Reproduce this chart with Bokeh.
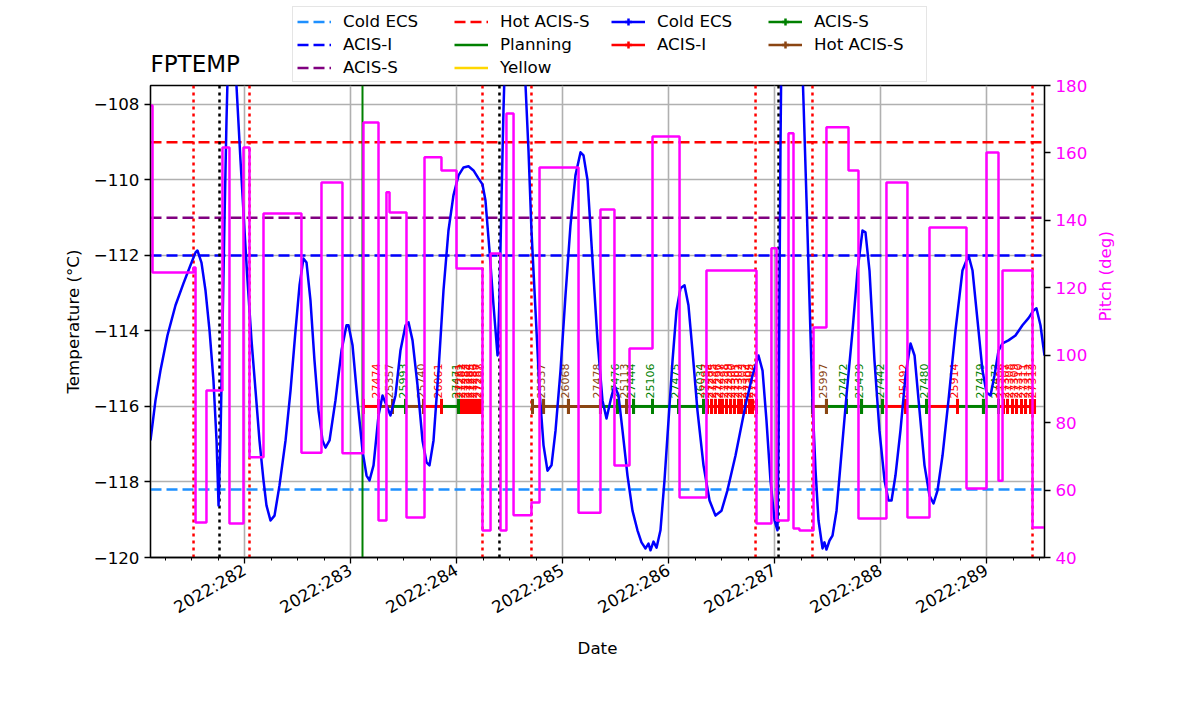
import math
from bokeh.plotting import figure
from bokeh.layouts import column
from bokeh.models import (Range1d, LinearAxis, FixedTicker, CustomJSTickFormatter,
                          Legend, LegendItem, Span, Label)
from bokeh.core.properties import value
from bokeh.embed import file_html
from bokeh.resources import INLINE

FONT = "DejaVu Sans"

# ---------------- data ----------------
x_start, x_stop = 281.113, 289.547
temp_min, temp_max = -120.0, -107.5
pitch_min, pitch_max = 40.0, 180.0

day_ticks = [282, 283, 284, 285, 286, 287, 288, 289]
temp_ticks = [-120, -118, -116, -114, -112, -110, -108]
pitch_ticks = [40, 60, 80, 100, 120, 140, 160, 180]

temp_time = [281.113, 281.160, 281.207, 281.273, 281.349, 281.424, 281.490, 281.538, 281.556,
             281.594, 281.632, 281.670, 281.707, 281.736, 281.755, 281.773, 281.792, 281.811,
             281.830, 281.849, 281.877, 281.924, 281.962, 282.000, 282.028, 282.066, 282.104,
             282.141, 282.179, 282.207, 282.245, 282.283, 282.330, 282.387, 282.434, 282.481,
             282.519, 282.556, 282.585, 282.622, 282.660, 282.698, 282.736, 282.764, 282.802,
             282.858, 282.915, 282.962, 282.981, 283.019, 283.066, 283.113, 283.151, 283.179,
             283.217, 283.264, 283.302, 283.339, 283.377, 283.424, 283.471, 283.519, 283.547,
             283.585, 283.632, 283.679, 283.717, 283.745, 283.783, 283.830, 283.877, 283.924,
             283.971, 284.019, 284.066, 284.113, 284.160, 284.207, 284.245, 284.273, 284.311,
             284.349, 284.387, 284.405, 284.424, 284.443, 284.462, 284.538, 284.613, 284.651,
             284.679, 284.707, 284.745, 284.783, 284.821, 284.858, 284.896, 284.934, 284.981,
             285.028, 285.075, 285.122, 285.170, 285.198, 285.236, 285.283, 285.330, 285.377,
             285.415, 285.453, 285.490, 285.528, 285.566, 285.613, 285.660, 285.707, 285.745,
             285.783, 285.811, 285.830, 285.858, 285.887, 285.924, 285.962, 286.000, 286.038,
             286.075, 286.113, 286.151, 286.188, 286.226, 286.273, 286.330, 286.387, 286.443,
             286.500, 286.556, 286.632, 286.726, 286.792, 286.849, 286.887, 286.924, 286.962,
             287.000, 287.028, 287.038, 287.047, 287.056, 287.066, 287.151, 287.255, 287.273,
             287.302, 287.330, 287.358, 287.387, 287.415, 287.453, 287.471, 287.490, 287.519,
             287.547, 287.585, 287.622, 287.679, 287.736, 287.783, 287.830, 287.858, 287.896,
             287.943, 287.990, 288.038, 288.075, 288.104, 288.141, 288.188, 288.236, 288.283,
             288.321, 288.368, 288.415, 288.462, 288.500, 288.538, 288.585, 288.641, 288.707,
             288.773, 288.830, 288.868, 288.915, 288.962, 289.000, 289.038, 289.075, 289.113,
             289.151, 289.207, 289.273, 289.339, 289.396, 289.443, 289.471, 289.509, 289.547]
temp_value = [-116.90, -115.84, -115.05, -114.12, -113.32, -112.74, -112.26, -111.92, -111.87,
              -112.19, -112.93, -113.99, -115.31, -116.90, -118.62, -116.90, -113.99, -111.07,
              -108.42, -106.30, -104.50, -107.50, -109.48, -111.34, -112.66, -114.25, -115.58,
              -116.90, -117.96, -118.62, -119.02, -118.89, -118.09, -116.90, -115.58, -113.99,
              -112.79, -112.08, -112.19, -113.19, -114.78, -116.11, -116.90, -117.09, -116.90,
              -115.84, -114.52, -113.85, -113.85, -114.38, -115.84, -117.17, -117.83, -117.96,
              -117.56, -116.24, -115.71, -115.97, -116.24, -115.71, -114.52, -113.85, -113.77,
              -114.25, -115.44, -116.90, -117.48, -117.56, -116.90, -115.05, -112.93, -111.34,
              -110.41, -109.88, -109.67, -109.64, -109.75, -109.96, -110.12, -110.54, -111.87,
              -113.32, -114.65, -113.19, -110.54, -108.16, -106.30, -104.00, -106.30, -107.50,
              -109.22, -111.34, -113.46, -115.58, -117.03, -117.70, -117.56, -116.64, -115.05,
              -113.06, -111.21, -109.88, -109.27, -109.35, -110.01, -112.13, -114.25, -115.84,
              -116.32, -115.84, -115.44, -115.71, -116.64, -117.83, -118.76, -119.28, -119.60,
              -119.76, -119.63, -119.81, -119.58, -119.74, -119.28, -117.96, -116.37, -114.78,
              -113.46, -112.87, -112.79, -113.32, -114.52, -116.11, -117.56, -118.49, -118.89,
              -118.76, -118.22, -117.30, -115.97, -115.18, -114.65, -115.05, -116.37, -117.96,
              -119.02, -119.28, -116.90, -112.93, -109.22, -106.30, -103.00, -106.30, -107.89,
              -110.54, -113.19, -115.84, -117.70, -119.02, -119.76, -119.60, -119.79, -119.55,
              -119.42, -118.76, -117.56, -115.71, -113.99, -112.40, -111.34, -111.39, -112.40,
              -114.78, -116.64, -117.96, -118.49, -118.49, -117.83, -116.64, -115.18, -114.33,
              -114.65, -116.11, -117.56, -118.36, -118.57, -118.22, -117.30, -115.84, -113.99,
              -112.40, -112.00, -112.40, -113.72, -115.05, -115.63, -115.71, -115.18, -114.52,
              -114.33, -114.25, -114.12, -113.85, -113.66, -113.46, -113.40, -113.85, -114.65]

pitch_time = [281.113, 281.132, 281.519, 281.538, 281.641, 281.792, 281.858, 281.990, 282.047,
              282.179, 282.537, 282.726, 282.924, 283.122, 283.264, 283.339, 283.368, 283.528,
              283.698, 283.858, 284.000, 284.245, 284.321, 284.415, 284.471, 284.538, 284.707,
              284.783, 285.151, 285.358, 285.490, 285.632, 285.849, 286.104, 286.358, 286.830,
              286.971, 287.019, 287.132, 287.179, 287.235, 287.368, 287.490, 287.698, 287.792,
              288.056, 288.254, 288.462, 288.811, 289.000, 289.113, 289.151, 289.434, 289.547]
pitch_value = [174.1, 124.5, 126.0, 50.4, 89.5, 161.6, 50.1, 161.6, 69.7,
               142.0, 71.1, 151.2, 70.9, 169.0, 51.0, 148.3, 142.3, 51.9,
               158.7, 154.8, 125.7, 48.0, 130.2, 48.0, 171.7, 52.5, 56.3,
               155.7, 53.3, 143.2, 67.3, 102.0, 164.9, 57.8, 125.1, 50.1,
               131.7, 51.0, 165.8, 48.6, 48.0, 108.2, 167.6, 154.8, 51.6,
               151.2, 51.9, 137.9, 60.5, 160.1, 62.8, 125.1, 48.9, 48.9]

limit_names = ["Cold ECS", "ACIS-I", "ACIS-S", "Hot ACIS-S"]
limit_values = [-118.2, -112.0, -111.0, -109.0]
limit_colors = ["dodgerblue", "blue", "purple", "red"]

red_dotted_times = [281.519, 282.047, 284.245, 284.707, 286.821, 287.358, 289.434]
black_dotted_times = [281.764, 284.405, 287.038]
planning_time = 283.113
obs_level = -116.0

obs_id = ["27474", "25357", "25993", "25740", "26061", "27471",
          "27281", "27282", "27283", "27284", "27285", "27286", "27287", "27288",
          "25337", "26068", "27478", "27476", "25113", "27444", "25106", "27475", "26034",
          "27293", "27294", "27295", "27296", "27297", "27298", "27299", "27300", "27301",
          "27302", "27303", "27304", "27305", "27786",
          "25997", "27472", "25439", "27442", "25492", "27480", "25914", "27479", "27473",
          "27306", "27307", "27308", "27309", "27310", "27311", "27312", "27313"]
obs_type = ["I", "H", "S", "H", "I", "S",
            "I", "I", "I", "I", "I", "I", "I", "I",
            "H", "H", "H", "S", "H", "S", "S", "S", "S",
            "I", "I", "I", "I", "I", "I", "I", "I", "I",
            "I", "I", "I", "I", "I",
            "H", "S", "S", "S", "I", "S", "I", "S", "S",
            "I", "I", "I", "I", "I", "I", "I", "I"]
obs_start = [283.122, 283.264, 283.396, 283.519, 283.689, 283.858,
             284.019, 284.047, 284.075, 284.104, 284.132, 284.160, 284.188, 284.217,
             284.717, 284.821, 285.056, 285.358, 285.519, 285.604, 285.670, 285.849, 286.094,
             286.330, 286.368, 286.406, 286.443, 286.481, 286.509, 286.547, 286.585, 286.622,
             286.660, 286.688, 286.726, 286.764, 286.792,
             287.358, 287.490, 287.679, 287.821, 288.019, 288.236, 288.434, 288.726, 288.971,
             289.113, 289.160, 289.198, 289.245, 289.283, 289.330, 289.368, 289.415]
obs_stop = [283.264, 283.396, 283.519, 283.689, 283.858, 284.019,
            284.047, 284.075, 284.104, 284.132, 284.160, 284.188, 284.217, 284.236,
            284.821, 285.056, 285.358, 285.519, 285.604, 285.670, 285.849, 286.094, 286.330,
            286.368, 286.406, 286.443, 286.481, 286.509, 286.547, 286.585, 286.622, 286.660,
            286.688, 286.726, 286.764, 286.792, 286.830,
            287.490, 287.679, 287.821, 288.019, 288.236, 288.434, 288.726, 288.971, 289.113,
            289.160, 289.198, 289.245, 289.283, 289.330, 289.368, 289.415, 289.453]
obs_colors = {"I": "red", "S": "green", "H": "saddlebrown"}

# ---------------- top band: title + legend ----------------
# (its frame is aligned by the column layout with the main frame: x 150..1044)
top = figure(width=1192, height=83, output_backend="svg", toolbar_location=None,
             x_range=Range1d(0, 1), y_range=Range1d(0, 1), min_border=0, title=None,
             x_axis_location=None, y_axis_location=None)
top.grid.visible = False
top.outline_line_color = None
top.background_fill_color = "white"
top.border_fill_color = "white"
top.margin = (0, 0, -8, 0)

top.add_layout(Label(x=0, y=20, x_units="screen", y_units="screen", text="FPTEMP",
                     text_font=FONT, text_font_size="23px", text_color="black",
                     text_baseline="alphabetic"))

# legend proxies: one point each, placed outside the visible 0..1 range
proxy_x, proxy_y = [-5.0], [-5.0]


def dashed(c):
    return top.line(proxy_x, proxy_y, line_color=c, line_dash="11 5", line_width=2.5)


def solid(c):
    return top.line(proxy_x, proxy_y, line_color=c, line_width=2.5)


def errbar(c):
    r1 = top.line(proxy_x, proxy_y, line_color=c, line_width=2.5)
    r2 = top.scatter(proxy_x, proxy_y, marker="cross", size=14,
                     line_color=c, line_width=2.5)
    return [r1, r2]


blank = top.line(proxy_x, proxy_y, line_alpha=0)
items = [
    LegendItem(label="Cold ECS", renderers=[dashed("dodgerblue")]),
    LegendItem(label="ACIS-I", renderers=[dashed("blue")]),
    LegendItem(label="ACIS-S", renderers=[dashed("purple")]),
    LegendItem(label="Hot ACIS-S", renderers=[dashed("red")]),
    LegendItem(label="Planning", renderers=[solid("green")]),
    LegendItem(label="Yellow", renderers=[solid("gold")]),
    LegendItem(label="Cold ECS", renderers=errbar("blue")),
    LegendItem(label="ACIS-I", renderers=errbar("red")),
    LegendItem(label=" ", renderers=[blank]),
    LegendItem(label="ACIS-S", renderers=errbar("green")),
    LegendItem(label="Hot ACIS-S", renderers=errbar("saddlebrown")),
    LegendItem(label=" ", renderers=[blank]),
]
legend = Legend(items=items, location=(142, 1), orientation="vertical", nrows=3,
                glyph_width=34, glyph_height=17, label_standoff=12, label_width=108,
                spacing=3, padding=4, margin=0,
                label_text_font=FONT, label_text_font_size="16.7px",
                label_text_color="black",
                border_line_color="#cccccc", border_line_width=1,
                background_fill_alpha=0.8)
top.add_layout(legend)

# ---------------- main plot ----------------
p = figure(width=1192, height=633, output_backend="svg", toolbar_location=None, title=None,
           x_range=Range1d(x_start, x_stop), y_range=Range1d(temp_min, temp_max),
           min_border_left=150, min_border_right=148, min_border_top=10,
           min_border_bottom=151)
p.extra_y_ranges = {"pitch": Range1d(pitch_min, pitch_max)}
p.outline_line_color = "black"
p.outline_line_width = 1.3
p.outline_line_alpha = 1.0
p.background_fill_color = "white"
p.border_fill_alpha = 0.0

# grids
p.xgrid.ticker = FixedTicker(ticks=day_ticks)
p.ygrid.ticker = FixedTicker(ticks=temp_ticks)
for g in (p.xgrid, p.ygrid):
    g.grid_line_color = "#b0b0b0"
    g.grid_line_width = 1.6

# axes
minor = [d + q for d in range(281, 290) for q in (0.0, 0.25, 0.5, 0.75)]
xa = p.xaxis[0]
xa.ticker = FixedTicker(ticks=day_ticks, minor_ticks=minor)
xa.formatter = CustomJSTickFormatter(code="return '2022:' + tick.toFixed(0);")
xa.major_label_orientation = math.pi / 6
xa.axis_label = "Date"

ya = p.yaxis[0]
ya.ticker = FixedTicker(ticks=temp_ticks)
ya.formatter = CustomJSTickFormatter(
    code="return (tick < 0 ? '\u2212' : '') + Math.abs(tick).toFixed(0);")
ya.axis_label = "Temperature (°C)"

ra = LinearAxis(y_range_name="pitch", ticker=FixedTicker(ticks=pitch_ticks),
                axis_label="Pitch (deg)")
p.add_layout(ra, "right")
ra.axis_label_orientation = math.pi / 2

for ax in (xa, ya, ra):
    ax.axis_line_color = "black"
    ax.axis_line_width = 1.3
    ax.major_tick_line_color = "black"
    ax.major_tick_line_width = 1.3
    ax.major_tick_out = 6
    ax.major_tick_in = 0
    ax.minor_tick_out = 3
    ax.minor_tick_in = 0
    ax.major_label_text_font = FONT
    ax.major_label_text_font_size = "16.7px"
    ax.major_label_text_color = "black"
    ax.axis_label_text_font = FONT
    ax.axis_label_text_font_size = "16.7px"
    ax.axis_label_text_font_style = "normal"
    ax.axis_label_text_color = "black"
    ax.axis_label_standoff = 8
ya.minor_tick_line_color = None
ra.minor_tick_line_color = None
xa.minor_tick_line_color = "black"
xa.axis_label_standoff = 9
ra.major_label_text_color = "magenta"
ra.axis_label_text_color = "magenta"
ra.axis_label_standoff = 15

# limit lines
for v, c in zip(limit_values, limit_colors):
    p.add_layout(Span(location=v, dimension="width", line_color=c, line_dash="11 5",
                      line_width=2.5, level="underlay"))
for t in red_dotted_times:
    p.add_layout(Span(location=t, dimension="height", line_color="red", line_dash="3 4",
                      line_width=2.5, level="underlay"))
for t in black_dotted_times:
    p.add_layout(Span(location=t, dimension="height", line_color="black", line_dash="3 4",
                      line_width=2.5, level="underlay"))
p.add_layout(Span(location=planning_time, dimension="height", line_color="green",
                  line_width=2, level="underlay"))

# observations
cols = [obs_colors[t] for t in obs_type]
p.segment(x0=obs_start, y0=[obs_level] * len(obs_start), x1=obs_stop,
          y1=[obs_level] * len(obs_stop), line_color=cols, line_width=3)
cap_x = obs_start + obs_stop
cap_c = cols + cols
p.segment(x0=cap_x, y0=[obs_level - 0.2] * len(cap_x), x1=cap_x,
          y1=[obs_level + 0.2] * len(cap_x), line_color=cap_c, line_width=3)
p.text(x=obs_stop, y=[obs_level + 0.21] * len(obs_stop), text=obs_id, angle=math.pi / 2,
       text_align="left", text_baseline="middle", text_color=cols,
       text_font=value(FONT), text_font_size="11px", x_offset=-3)

# temperature and pitch
p.line(temp_time, temp_value, line_color="blue", line_width=2.5, line_join="round")
p.step(pitch_time, pitch_value, mode="after", line_color="magenta", line_width=2.5,
       y_range_name="pitch")

layout = column(top, p, spacing=0)
open("out.html", "w").write(file_html(layout, INLINE))
